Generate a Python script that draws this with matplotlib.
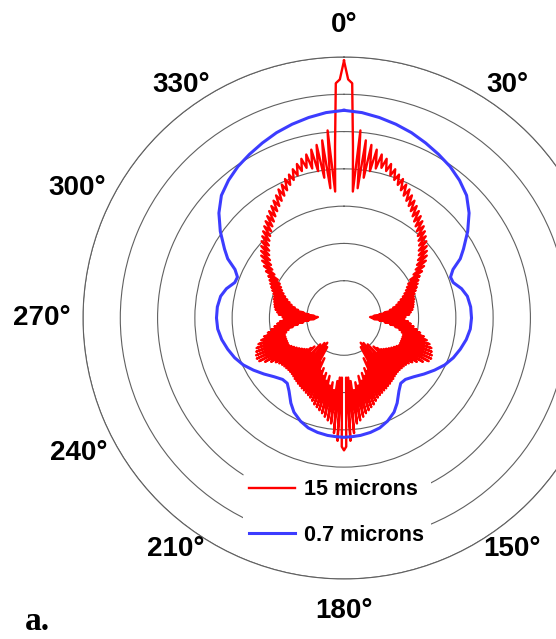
import numpy as np
import matplotlib
matplotlib.use("Agg")
import matplotlib.pyplot as plt

# half patterns (0..180 deg), the other half mirrors them
red_deg = np.arange(0, 181)
red_r = [6.90, 6.40, 6.30, 4.60, 3.40, 5.05, 3.50, 4.80, 3.80, 4.70,
         4.00, 4.60, 4.10, 4.50, 4.15, 4.42, 4.10, 4.32, 4.02, 4.22,
         3.94, 4.12, 3.85, 4.05, 3.75, 3.95, 3.65, 3.87, 3.56, 3.76,
         3.47, 3.67, 3.38, 3.58, 3.29, 3.50, 3.20, 3.42, 3.12, 3.34,
         3.04, 3.26, 2.96, 3.18, 2.88, 3.10, 2.80, 3.02, 2.70, 2.94,
         2.62, 2.86, 2.52, 2.78, 2.42, 2.68, 2.32, 2.56, 2.20, 2.44,
         2.05, 2.32, 1.95, 2.24, 1.88, 2.18, 1.82, 2.12, 1.75, 2.06,
         1.68, 2.00, 1.60, 1.96, 1.52, 1.95, 1.45, 1.92, 1.35, 1.90,
         1.25, 1.88, 1.10, 1.85, 0.95, 1.80, 0.80, 1.75, 0.70, 1.65,
         0.75, 1.62, 0.80, 1.72, 0.95, 1.80, 1.10, 1.88, 1.25, 1.98,
         1.40, 2.08, 1.52, 2.20, 1.60, 2.30, 1.65, 2.40, 1.65, 2.48,
         1.65, 2.52, 1.65, 2.56, 1.65, 2.58, 1.65, 2.55, 1.60, 2.42,
         1.55, 2.28, 1.50, 2.18, 1.45, 2.12, 1.40, 2.08, 1.35, 2.06,
         1.30, 2.05, 1.20, 2.04, 1.10, 2.04, 1.30, 2.05, 0.95, 2.07,
         1.25, 2.10, 0.85, 2.12, 1.20, 2.15, 0.80, 2.17, 1.25, 2.20,
         0.90, 2.22, 1.35, 2.25, 1.20, 2.28, 1.55, 2.32, 1.45, 2.38,
         1.65, 2.45, 1.55, 2.50, 1.75, 2.56, 1.60, 2.62, 1.85, 2.70,
         1.75, 2.78, 1.95, 2.85, 1.70, 3.10, 1.60, 3.30, 1.60, 3.45,
         3.55]

blue_deg = [0, 5, 10, 15, 20, 25, 30, 35, 40, 45, 50, 55, 60, 63, 66, 69,
            72, 76, 80, 85, 90, 95, 100, 105, 110, 115, 120, 125, 130, 135,
            139, 143, 148, 152, 157, 162, 167, 172, 176, 180]
blue_r = [5.57, 5.53, 5.46, 5.38, 5.29, 5.18, 5.07, 4.96, 4.82, 4.65,
          4.38, 4.05, 3.70, 3.50, 3.20, 3.06, 3.08, 3.25, 3.36, 3.41,
          3.42, 3.40, 3.33, 3.23, 3.12, 2.98, 2.80, 2.62, 2.45, 2.33,
          2.32, 2.45, 2.69, 2.86, 3.00, 3.10, 3.15, 3.18, 3.19, 3.20]

ring_r = [1, 2, 3, 4, 5, 6, 7]
# angle labels that fall inside the picture, with where they sit (deg, r)
label_text = ["0°", "30°", "150°", "180°", "210°", "240°", "270°", "300°", "330°"]
label_deg = [0, 35, 144, 180, 216, 243, 270, 296, 325]
label_rad = [7.86, 7.62, 7.67, 7.86, 7.67, 7.98, 8.10, 7.95, 7.62]


def full_circle(deg, r):
    deg = np.asarray(deg, dtype=float)
    r = np.asarray(r, dtype=float)
    th = np.concatenate([deg, 360 - deg[::-1][1:]])
    rr = np.concatenate([r, r[::-1][1:]])
    return np.deg2rad(th), rr


fig = plt.figure(figsize=(5.56, 6.39), dpi=100)
ax = fig.add_axes([0.1493, 0.0939, 0.9388, 0.8169], projection="polar")
ax.set_theta_zero_location("N")
ax.set_theta_direction(-1)

th_red, r_red = full_circle(red_deg, red_r)
th_blue, r_blue = full_circle(blue_deg, blue_r)
ax.plot(th_red, r_red, color="#ff0000", lw=1.7, label="15 microns")
ax.plot(th_blue, r_blue, color="#3c3cff", lw=2.2, label="0.7 microns")

ax.set_ylim(0, 7)
ax.set_yticks(ring_r)
ax.set_yticklabels([])
ax.yaxis.grid(True, color="#606060", lw=0.8)
ax.xaxis.grid(False)
ax.set_xticks([])
ax.spines["polar"].set_color("#606060")
ax.spines["polar"].set_linewidth(0.8)

for txt, d, r in zip(label_text, label_deg, label_rad):
    ax.text(np.deg2rad(d), r, txt, ha="center", va="center", fontsize=20,
            fontweight="bold", family="Liberation Sans")

leg = ax.legend(loc="center", bbox_to_anchor=(0.606, 0.198),
                bbox_transform=fig.transFigure, frameon=True,
                framealpha=1, edgecolor="none", facecolor="white",
                prop={"family": "Liberation Sans", "weight": "bold", "size": 15.5},
                handlelength=2.1, handletextpad=0.45, labelspacing=1.15,
                borderpad=0.3)

fig.text(0.045, 2 / 639, "a.", family="Liberation Serif",
         weight="bold", fontsize=24, va="bottom", ha="left")

fig.savefig("out.png", dpi=100)
